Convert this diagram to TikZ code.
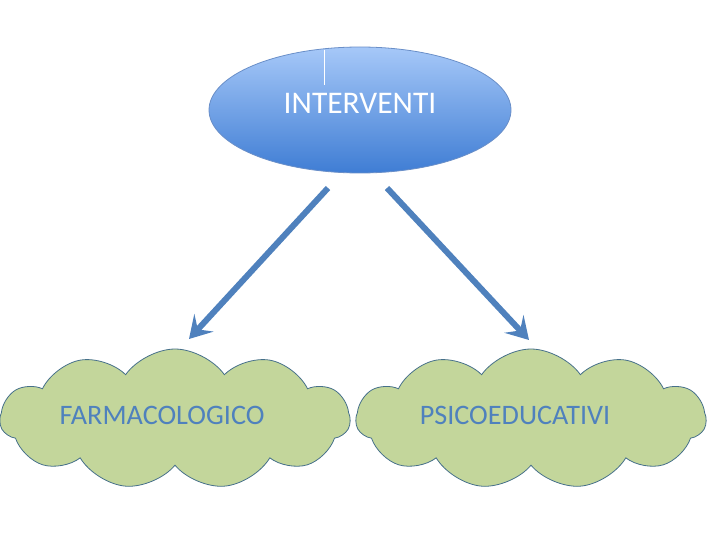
\documentclass[tikz,border=0pt]{standalone}
\usepackage{fontspec}
\setmainfont{Carlito}
\usetikzlibrary{shapes.geometric,shapes.symbols,arrows.meta}
\definecolor{arrowblue}{HTML}{4F81BD}
\definecolor{elltop}{HTML}{A6C8F8}
\definecolor{ellbot}{HTML}{3F7DD4}
\definecolor{elledge}{HTML}{6A8FC8}
\definecolor{cloudfill}{HTML}{C3D69B}
\definecolor{cloudedge}{HTML}{46708A}
\tikzset{
  topell/.style={ellipse, draw=elledge, line width=0.8pt, top color=elltop, bottom color=ellbot,
    minimum width=302pt, minimum height=126pt, inner sep=0pt, text=white, font=\fontsize{31.5}{31.5}\selectfont},
  cloudbox/.style={cloud, cloud puffs=11, cloud puff arc=110, aspect=2.6, draw=cloudedge, line width=0.8pt,
    fill=cloudfill, minimum width=350pt, minimum height=140pt, inner sep=0pt},
  cloudtext/.style={text=arrowblue, font=\fontsize{28.2}{28.2}\selectfont},
  bigarrow/.style={draw=arrowblue, line width=6pt, -{Stealth[length=22pt,width=26pt,inset=9pt]}}
}
\begin{document}
\begin{tikzpicture}[x=1pt,y=-1pt]
\useasboundingbox (0,0) rectangle (720,540);
\node[topell] (top) at (360,110) {\raisebox{13pt}{INTERVENTI}};
\draw[white, line width=0.8pt] (324,50) -- (324,85);
\node[cloudbox] (farma) at (175,419) {};
\node[cloudtext] (farmat) at (162,415) {FARMACOLOGICO};
\node[cloudbox] (psico) at (531,419) {};
\node[cloudtext] (psicot) at (515,415) {PSICOEDUCATIVI};
\coordinate (l1) at (328,188);
\coordinate (l2) at (189,339);
\coordinate (r1) at (387,188);
\coordinate (r2) at (529,340);
\draw[bigarrow] (l1) -- (l2);
\draw[bigarrow] (r1) -- (r2);
\end{tikzpicture}
\end{document}
